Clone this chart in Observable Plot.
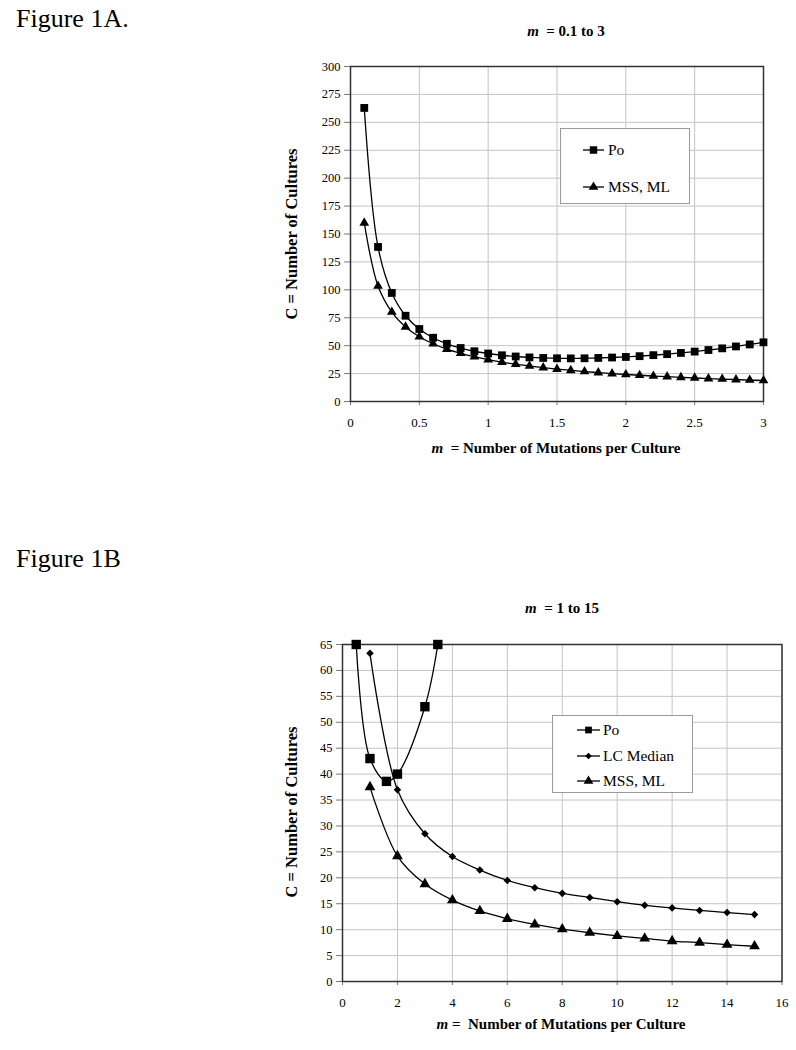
<!DOCTYPE html>
<html><head><meta charset="utf-8">
<script src="https://cdn.jsdelivr.net/npm/d3@7"></script>
<script src="https://cdn.jsdelivr.net/npm/@observablehq/plot@0.6"></script>
<style>
body{margin:0;background:#fff;font-family:"Liberation Serif","Times New Roman",serif;color:#000;}
#page{position:relative;width:796px;height:1050px;overflow:hidden;background:#fff;}
svg text{font-family:"Liberation Serif","Times New Roman",serif !important;}
.abs{position:absolute;line-height:1;white-space:nowrap;}
.fig{font-size:26px;left:16px;}
.title{font-weight:bold;font-size:15px;transform:translateX(-50%);}
.ylab{font-weight:bold;font-size:16.5px;transform:translate(-50%,-50%) rotate(-90deg);}
.legend{border:1px solid #9a9a9a;background:#fff;}
</style></head><body><div id="page"></div>
<script>
// ---------- Figure 1A data (m = 0.1 to 3) ----------
const mA    = [0.1,0.2,0.3,0.4,0.5,0.6,0.7,0.8,0.9,1.0,1.1,1.2,1.3,1.4,1.5,1.6,1.7,1.8,1.9,2.0,2.1,2.2,2.3,2.4,2.5,2.6,2.7,2.8,2.9,3.0];
const poA   = [262.9,138.4,97.2,76.8,64.9,57.1,51.7,47.9,45.0,43.0,41.4,40.3,39.5,39.0,38.7,38.6,38.7,39.0,39.4,39.9,40.6,41.5,42.4,43.5,44.7,46.1,47.6,49.3,51.1,53.0];
const mssA  = [160.0,103.4,80.1,66.8,58.0,51.7,46.9,43.2,40.1,37.5,35.3,33.4,31.8,30.3,29.0,27.9,26.8,25.9,25.0,24.2,23.5,22.8,22.2,21.6,21.1,20.5,20.1,19.6,19.2,18.8];
const xTicksA = [0,0.5,1,1.5,2,2.5,3];
const yTicksA = [0,25,50,75,100,125,150,175,200,225,250,275,300];

// ---------- Figure 1B data (m = 1 to 15) ----------
const mPoB  = [0.5,1,1.6,2,3,3.47];
const poB   = [65,43,38.6,40,53,65];
const mB    = [1,2,3,4,5,6,7,8,9,10,11,12,13,14,15];
const lcB   = [63.3,37.0,28.5,24.1,21.5,19.5,18.1,17.0,16.2,15.4,14.7,14.2,13.7,13.3,12.9];
const mssB  = [37.5,24.2,18.8,15.7,13.6,12.1,11.0,10.1,9.4,8.8,8.3,7.8,7.5,7.1,6.8];
const xTicksB = [0,2,4,6,8,10,12,14,16];
const yTicksB = [0,5,10,15,20,25,30,35,40,45,50,55,60,65];

const rows = (xs, ys) => xs.map((m, i) => ({m, c: ys[i]}));
const poRowsA = rows(mA, poA), mssRowsA = rows(mA, mssA);
const poRowsB = rows(mPoB, poB), lcRowsB = rows(mB, lcB), mssRowsB = rows(mB, mssB);

const page = document.getElementById("page");
function add(html){ const t=document.createElement("div"); t.innerHTML=html; const el=t.firstElementChild; page.appendChild(el); return el; }

const baseStyle = {fontFamily:'"Liberation Serif", serif', fontSize:"13px", color:"#000", background:"transparent", overflow:"visible"};
const lineOpts = {x:"m", y:"c", curve:"catmull-rom", stroke:"#000", strokeWidth:1.3};
const fmt = d => String(d);

function common(xT, yT){
  return [
    Plot.gridX({ticks:xT, stroke:"#c4c4c4", strokeOpacity:1, strokeWidth:1}),
    Plot.gridY({ticks:yT, stroke:"#c4c4c4", strokeOpacity:1, strokeWidth:1}),
    Plot.axisX({ticks:xT, tickFormat:fmt, tickSize:4, tickPadding:12, label:null, stroke:"#777", fontSize:13}),
    Plot.axisY({ticks:yT, tickFormat:fmt, tickSize:6, tickPadding:4, label:null, stroke:"#777", fontSize:12.5}),
    Plot.frame({stroke:"#333", strokeWidth:1.5})
  ];
}

// Chart A
const chartA = Plot.plot({
  width:496, height:380, marginLeft:60, marginTop:11, marginRight:23, marginBottom:34,
  x:{domain:[0,3]}, y:{domain:[0,300]},
  style: baseStyle,
  marks:[
    ...common(xTicksA, yTicksA),
    Plot.line(poRowsA, lineOpts),
    Plot.line(mssRowsA, lineOpts),
    Plot.dot(poRowsA, {x:"m", y:"c", symbol:"square", r:4.4, fill:"#000", stroke:null}),
    Plot.dot(mssRowsA, {x:"m", y:"c", symbol:"triangle", r:3.6, fill:"#000", stroke:null})
  ]
});
chartA.style.position="absolute"; chartA.style.left="290px"; chartA.style.top="55px";
page.appendChild(chartA);

// Chart B
const chartB = Plot.plot({
  width:510, height:378, marginLeft:60, marginTop:11, marginRight:10.5, marginBottom:30,
  x:{domain:[0,16]}, y:{domain:[0,65]},
  style: baseStyle,
  marks:[
    ...common(xTicksB, yTicksB),
    Plot.line(poRowsB, lineOpts),
    Plot.line(lcRowsB, lineOpts),
    Plot.line(mssRowsB, lineOpts),
    Plot.dot(poRowsB, {x:"m", y:"c", symbol:"square", r:5.3, fill:"#000", stroke:null}),
    Plot.dot(lcRowsB, {x:"m", y:"c", symbol:"diamond2", r:3.4, fill:"#000", stroke:null}),
    Plot.dot(mssRowsB, {x:"m", y:"c", symbol:"triangle", r:4.0, fill:"#000", stroke:null})
  ]
});
chartB.style.position="absolute"; chartB.style.left="282px"; chartB.style.top="633px";
page.appendChild(chartB);

// Texts
add('<div class="abs fig" style="top:6px">Figure 1A.</div>');
add('<div class="abs fig" style="top:546px">Figure 1B</div>');
add('<div class="abs title" style="left:566px;top:23.5px"><i>m</i>&nbsp; = 0.1 to 3</div>');
add('<div class="abs title" style="left:562px;top:601px"><i>m</i>&nbsp; = 1 to 15</div>');
add('<div class="abs title" style="left:556px;top:441px"><i>m</i>&nbsp; = Number of Mutations per Culture</div>');
add('<div class="abs title" style="left:561px;top:1017px"><i>m</i>&nbsp;= &nbsp;Number of Mutations per Culture</div>');
add('<div class="abs ylab" style="left:292px;top:234px">C = Number of Cultures</div>');
add('<div class="abs ylab" style="left:292px;top:812px">C = Number of Cultures</div>');

// Legends
function legend(left, top, w, h, items, lx0, lx1, tx){
  const div = add(`<div class="abs legend" style="left:${left}px;top:${top}px;width:${w}px;height:${h}px"></div>`);
  const svg = d3.select(div).append("svg").attr("width", w).attr("height", h).style("overflow","visible");
  items.forEach(it => {
    const g = svg.append("g").attr("transform", `translate(0,${it.y})`);
    g.append("line").attr("x1", lx0).attr("x2", lx1).attr("stroke", "#000").attr("stroke-width", 1.3);
    g.append("path").attr("d", d3.symbol(it.sym, Math.PI*it.r*it.r)()).attr("transform", `translate(${(lx0+lx1)/2},0)`).attr("fill", "#000");
    g.append("text").attr("x", tx).attr("dy", "0.35em").attr("font-size", 15.5).text(it.label);
  });
}
legend(560, 128, 128, 74, [
  {y:21, sym:d3.symbolSquare, r:4.2, label:"Po"},
  {y:58, sym:d3.symbolTriangle, r:3.6, label:"MSS, ML"}
], 22, 43, 47);
legend(552, 715, 139, 76, [
  {y:14, sym:d3.symbolSquare, r:3.8, label:"Po"},
  {y:40, sym:d3.symbolDiamond2, r:3.0, label:"LC Median"},
  {y:65, sym:d3.symbolTriangle, r:3.6, label:"MSS, ML"}
], 24, 47, 50);
</script>
</body></html>
